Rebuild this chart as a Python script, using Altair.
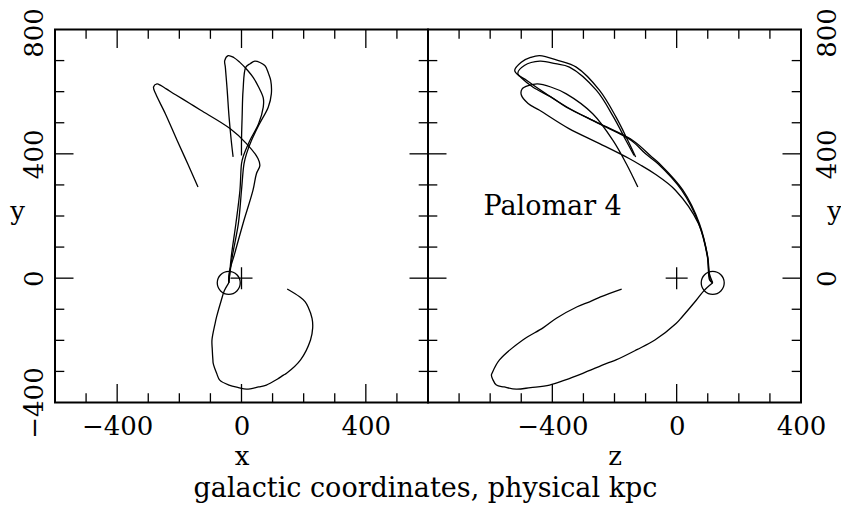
import altair as alt
import pandas as pd

FONT = "DejaVu Serif"
FS = 26
W = 373
H = 373
MAJOR_LEN = 18.5
MINOR_LEN = 9.3

X_DOMAIN = [-600, 600]
Z_DOMAIN = [-800, 400]
Y_DOMAIN = [-400, 800]

X_MAJOR = [-400, 0, 400]
X_MINOR = [-500, -300, -200, -100, 100, 200, 300, 500]
Z_MAJOR = [-400, 0]
Z_MINOR = [-700, -600, -500, -300, -200, -100, 100, 200, 300]
Y_MAJOR = [0, 400]
Y_MINOR = [-300, -200, -100, 100, 200, 300, 500, 600, 700]

X_LABELS = [-400, 0, 400]
Z_LABELS = [-400, 0, 400]
Y_LABELS_LEFT = [-400, 0, 400, 800]
Y_LABELS_RIGHT = [0, 400, 800]

# orbit A
A_Y = [-15, 15, 79, 176, 283, 336, 362, 385, 433, 482, 540, 562, 590, 609, 620, 625, 615, 593, 529, 443, 368, 293]
A_X = [-41, -40, -22, 5, 37, 48, 59, 53, 16, -38, -131, -166, -212, -242, -260, -272, -283, -276, -245, -207, -173, -140]
A_Z = [116, 105, 98, 70, -4, -71, -113, -153, -248, -348, -441, -478, -500, -497, -475, -448, -405, -355, -270, -205, -162, -125]

# orbit B
B_Y = [-15, -6, 68, 176, 283, 368, 390, 443, 497, 550, 580, 615, 645, 668, 695, 710, 716, 700, 679, 604, 518, 443, 390]
B_X = [-41, -40, -33, -18, -5, 0, 5, 27, 55, 70, 70, 55, 38, 20, -6, -25, -43, -54, -52, -46, -40, -33, -27]
B_Z = [116, 108, 100, 73, 20, -55, -80, -141, -248, -355, -400, -463, -500, -521, -500, -470, -441, -380, -323, -248, -195, -157, -132]

# orbit C
C_Y = [-15, -6, 68, 176, 283, 368, 400, 443, 497, 550, 593, 636, 658, 684, 698, 690, 679, 604, 518, 443, 395]
C_X = [-41, -40, -30, -10, 0, 8, 16, 32, 58, 86, 96, 94, 87, 75, 43, 28, 14, 5, 2, 0, 0]
C_Z = [116, 106, 99, 71, 16, -60, -100, -146, -250, -352, -420, -482, -511, -490, -440, -390, -345, -258, -203, -163, -137]

# orbit D (lower branch)
D_Y = [-15, -40, -71, -124, -146, -199, -230, -263, -274, -306, -328, -344, -352, -357, -350, -344, -325, -312, -306, -263, -199, -160, -129, -92, -76, -60, -35]
D_X = [-41, -55, -65, -80, -85, -95, -94, -92, -91, -80, -70, -40, -10, 16, 55, 80, 115, 135, 145, 190, 222, 229, 227, 214, 205, 187, 147]
D_Z = [116, 88, 63, 18, -2, -70, -128, -195, -225, -302, -360, -409, -470, -516, -555, -580, -592, -596, -594, -570, -495, -430, -387, -320, -280, -245, -177]

CLUSTER_X = [-41]
CLUSTER_Y = [-15]
CLUSTER_Z = [116]
CENTER = [0]

LABEL_TEXT = ["Palomar 4"]
LABEL_Z = [-399]
LABEL_Y = [228]

rows = []
for name, ys, xs, zs in [("A", A_Y, A_X, A_Z), ("B", B_Y, B_X, B_Z),
                         ("C", C_Y, C_X, C_Z), ("D", D_Y, D_X, D_Z)]:
    for i, (y, x, z) in enumerate(zip(ys, xs, zs)):
        rows.append({"curve": name, "i": i, "x": x, "y": y, "z": z})
orbit = pd.DataFrame(rows)

cluster = pd.DataFrame({"x": CLUSTER_X, "y": CLUSTER_Y, "z": CLUSTER_Z})
center = pd.DataFrame({"x": CENTER, "y": CENTER, "z": CENTER})
label = pd.DataFrame({"t": LABEL_TEXT, "z": LABEL_Z, "y": LABEL_Y})

yscale = alt.Scale(domain=Y_DOMAIN, nice=False, zero=False)

common_axis = dict(ticks=False, tickSize=0, domain=False, grid=False, format="d",
                   labelFont=FONT, labelFontSize=FS, labelColor="black",
                   labelOverlap=False, labelFlush=False, labelBound=False,
                   titleFont=FONT, titleFontSize=FS, titleFontWeight="normal",
                   titleColor="black")

# keep the top "800" label inside the page
TOP_LABEL_SHIFT = {"condition": {"test": "datum.value == 800", "value": 3}, "value": 0}


def tick_layers(hscale, hmajor, hminor):
    layers = []
    for vals, L in [(hmajor, MAJOR_LEN), (hminor, MINOR_LEN)]:
        base = alt.Chart(pd.DataFrame({"v": vals})).mark_rule(color="black", strokeWidth=1.3)
        layers.append(base.encode(x=alt.X("v:Q", scale=hscale),
                                  y=alt.value(H), y2=alt.value(H - L)))
        layers.append(base.encode(x=alt.X("v:Q", scale=hscale),
                                  y=alt.value(0), y2=alt.value(L)))
    for vals, L in [(Y_MAJOR, MAJOR_LEN), (Y_MINOR, MINOR_LEN)]:
        base = alt.Chart(pd.DataFrame({"v": vals})).mark_rule(color="black", strokeWidth=1.3)
        layers.append(base.encode(y=alt.Y("v:Q", scale=yscale),
                                  x=alt.value(0), x2=alt.value(L)))
        layers.append(base.encode(y=alt.Y("v:Q", scale=yscale),
                                  x=alt.value(W), x2=alt.value(W - L)))
    return layers


def panel(hfield, hdomain, hmajor, hminor, hlabels, htitle, yaxis, text=False):
    hscale = alt.Scale(domain=hdomain, nice=False, zero=False)
    xaxis = alt.Axis(values=hlabels, labelPadding=24, labelBaseline="middle",
                     title=htitle, titleBaseline="alphabetic", titleY=62, **common_axis)
    lines = alt.Chart(orbit).mark_line(color="black", strokeWidth=1.3,
                                       interpolate="catmull-rom").encode(
        x=alt.X(f"{hfield}:Q", scale=hscale, axis=xaxis),
        y=alt.Y("y:Q", scale=yscale, axis=yaxis),
        detail="curve:N",
        order="i:Q",
    )
    circ = alt.Chart(cluster).mark_point(shape="circle", size=529, filled=False,
                                         color="black", strokeWidth=1.3, opacity=1).encode(
        x=alt.X(f"{hfield}:Q", scale=hscale), y=alt.Y("y:Q", scale=yscale))
    plus = alt.Chart(center).mark_point(shape="M-1,0L1,0M0,-1L0,1", size=484, filled=False,
                                        color="black", strokeWidth=1.3, opacity=1).encode(
        x=alt.X(f"{hfield}:Q", scale=hscale), y=alt.Y("y:Q", scale=yscale))
    layers = [lines, circ, plus] + tick_layers(hscale, hmajor, hminor)
    if text:
        layers.append(alt.Chart(label).mark_text(font=FONT, fontSize=27, color="black",
                                                 align="center", baseline="middle").encode(
            x=alt.X("z:Q", scale=hscale), y=alt.Y("y:Q", scale=yscale), text="t:N"))
    return alt.layer(*layers).properties(width=W, height=H)


yaxis_left = alt.Axis(values=Y_LABELS_LEFT, labelAngle=270, labelAlign="center",
                      labelBaseline="middle", labelPadding=21, labelOffset=TOP_LABEL_SHIFT,
                      title="y", titleAngle=0, titleAlign="center", titleBaseline="alphabetic",
                      titleX=-38, titleY=190, **common_axis)
yaxis_right = alt.Axis(values=Y_LABELS_RIGHT, orient="right", labelAngle=270, labelAlign="center",
                       labelBaseline="middle", labelPadding=26, labelOffset=TOP_LABEL_SHIFT,
                       title="y", titleAngle=0, titleAlign="center", titleBaseline="alphabetic",
                       titleX=33, titleY=190, **common_axis)

left = panel("x", X_DOMAIN, X_MAJOR, X_MINOR, X_LABELS, "x", yaxis_left)
right = panel("z", Z_DOMAIN, Z_MAJOR, Z_MINOR, Z_LABELS, "z", yaxis_right, text=True)

chart = alt.hconcat(left, right, spacing=0, bounds="flush").properties(
    title=alt.TitleParams("galactic coordinates, physical kpc", orient="bottom",
                          anchor="middle", font=FONT, fontSize=27, fontWeight="normal",
                          color="black", offset=5),
    autosize=alt.AutoSizeParams(type="none"),
    padding={"left": 47, "top": 21.5, "right": 786, "bottom": 472.5},
).configure_view(stroke="black", strokeWidth=2)

chart.save("out.html", embed_options={"renderer": "svg", "actions": False})
